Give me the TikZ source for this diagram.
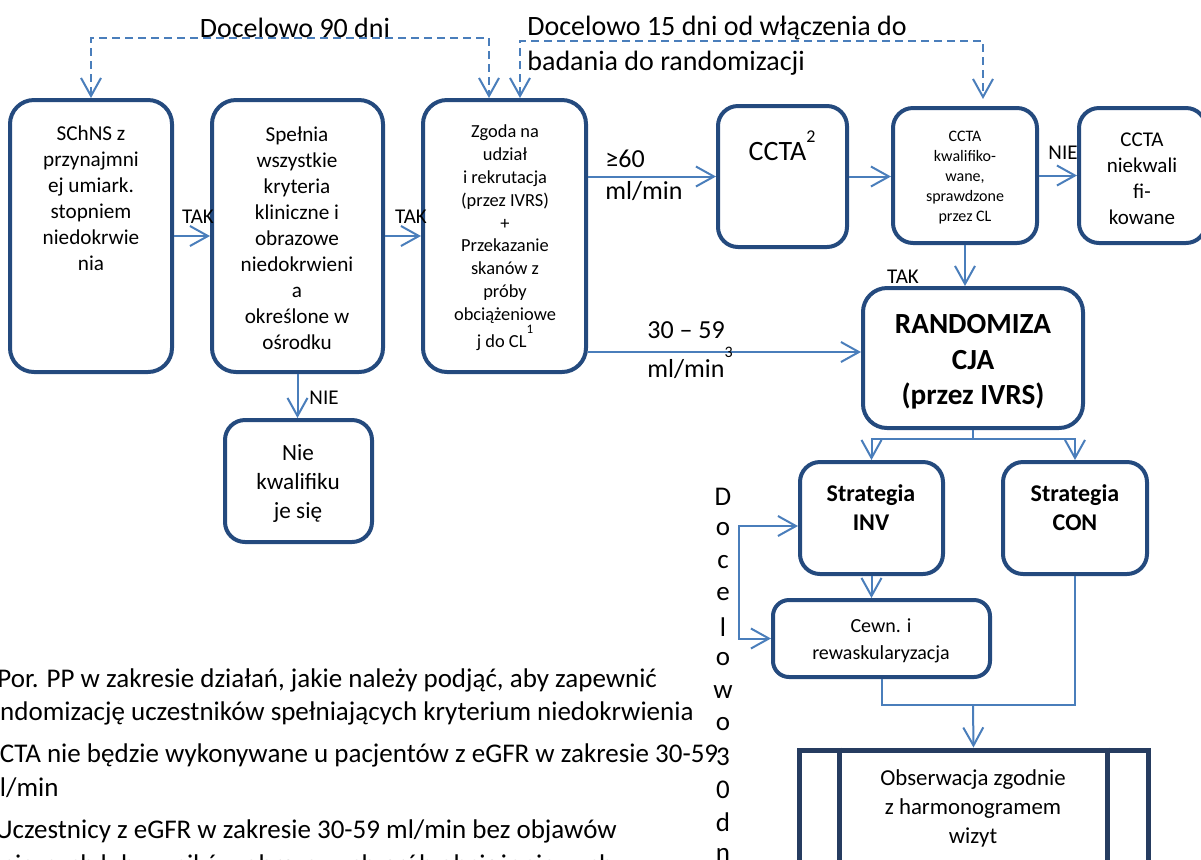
\documentclass[tikz,border=0pt]{standalone}
\usepackage{fontspec}
\setmainfont{Carlito}
\usetikzlibrary{arrows.meta,fit}
\definecolor{boxblue}{RGB}{36,74,126}
\definecolor{obsblue}{RGB}{38,60,96}
\definecolor{linkblue}{RGB}{74,126,187}
\newcommand{\fsz}[2]{\fontsize{#1}{#2}\selectfont}
\tikzset{
  >={Straight Barb[length=9pt,width=10pt]},
  box/.style={
    draw=boxblue,
    line width=2pt,
    rounded corners=10pt,
    inner sep=0pt
  },
  bigbox/.style={
    box,
    rounded corners=12pt
  },
  obsbox/.style={
    draw=obsblue,
    line width=2.5pt,
    inner sep=0pt
  },
  txt/.style={
    align=center,
    inner sep=0pt
  },
  link/.style={
    draw=linkblue,
    line width=1pt,
    ->
  },
  dlink/.style={
    link,
    dash pattern=on 4pt off 2.5pt,
    <->
  },
  lbl/.style={
    inner sep=0pt,
    font=\fsz{10.5}{13}
  },
  fnote/.style={
    inner sep=0pt,
    font=\fsz{13.5}{16}
  }
}

\begin{document}
\begin{tikzpicture}[x=0.5pt,y=-0.5pt]
  \useasboundingbox (0,0) rectangle (1201,859);
  \clip (0,0) rectangle (1201,859);
  % boxes
  \node[bigbox, fit={(10,100) (172,372)}] (schns) {};
  \node[bigbox, fit={(212,100) (383,372)}] (speln) {};
  \node[bigbox, fit={(423,100) (586,372)}] (zgoda) {};
  \node[box, fit={(718,106) (847,247)}] (ccta) {};
  \node[box, fit={(893,108) (1037,243)}] (kwal) {};
  \node[box, fit={(1079,108) (1206,243)}] (niekw) {};
  \node[bigbox, fit={(863,288) (1083,428)}] (rand) {};
  \node[box, fit={(225,420) (372,542)}] (nie) {};
  \node[box, fit={(800,462) (943,574)}] (inv) {};
  \node[box, fit={(1003,462) (1147,574)}] (con) {};
  \node[box, rounded corners=8pt, fit={(773,600) (990,677)}] (cewn) {};
  \node[obsbox, fit={(799,750) (1148,880)}] (obs) {};
  \draw[obsblue, line width=2.5pt]
    ([xshift=21.5pt]obs.north west) -- ([xshift=21.5pt]obs.south west)
    ([xshift=-21.5pt]obs.north east) -- ([xshift=-21.5pt]obs.south east);

  \node[txt, font=\fsz{10.6}{13}] (schnsT) at (91,198)
    {SChNS z\\przynajmni\\ej umiark.\\stopniem\\niedokrwie\\nia};
  \node[txt, font=\fsz{10.6}{13}] (spelnT) at (297,238)
    {Spełnia\\wszystkie\\kryteria\\kliniczne i\\obrazowe\\niedokrwieni\\a\\określone w\\ośrodku};
  \node[txt, font=\fsz{9.2}{11.4}] (zgodaT) at (505,238)
    {Zgoda na\\udział\\i rekrutacja\\(przez IVRS)\\+\\Przekazanie\\skanów z\\próby\\obciążeniowe\\j do CL\raisebox{7pt}{\fsz{6.5}{6.5}1}};
  \node[txt, font=\fsz{14}{17}] (cctaT) at (782,146)
    {CCTA\raisebox{9pt}{\fsz{9}{9}2}};
  \node[txt, font=\fsz{8}{10}] (kwalT) at (965,178)
    {CCTA\\kwalifiko-\\wane,\\sprawdzone\\przez CL};
  \node[txt, font=\fsz{10.5}{13}] (niekwT) at (1142,179)
    {CCTA\\niekwali\\fi-\\kowane};
  \node[txt, font=\bfseries\fsz{14.6}{17.8}] (randT) at (973,362)
    {RANDOMIZA\\CJA\\(przez IVRS)};
  \node[txt, font=\fsz{11.6}{14.5}] (nieT) at (298,483)
    {Nie\\kwalifiku\\je się};
  \node[txt, font=\bfseries\fsz{12}{14.5}] (invT) at (871,508)
    {Strategia\\INV};
  \node[txt, font=\bfseries\fsz{12}{14.5}] (conT) at (1075,508)
    {Strategia\\CON};
  \node[txt, font=\fsz{10}{13.5}] (cewnT) at (881,641)
    {Cewn. i\\rewaskularyzacja};
  \node[txt, font=\fsz{11.4}{14.5}] (obsT) at (973,808)
    {Obserwacja zgodnie\\z harmonogramem\\wizyt};

  % connectors
  \draw[link] (schns.east) -- (speln.west);
  \draw[link] (speln.east) -- (zgoda.west);
  \draw[link] (speln.south) -- (speln.south |- nie.north);
  \draw[link] (zgoda.east |- ccta.west) -- (ccta.west);
  \draw[link] (ccta.east) -- (ccta.east -| kwal.west);
  \draw[link] (kwal.east) -- (kwal.east -| niekw.west);
  \draw[link] (kwal.south) -- (kwal.south |- rand.north);
  \coordinate (r30) at ([yshift=3pt]rand.west);
  \draw[link] (r30 -| zgoda.east) -- (r30);
  \coordinate (rj) at ([yshift=-4.5pt]rand.south);
  \draw[link] (rand.south) -- (rj) -| (inv.north);
  \draw[link] (rj) -| (con.north);
  \draw[link] (inv.south) -- (inv.south |- cewn.north);
  \coordinate (brk) at (739,580);
  \draw[link, <->] ([yshift=-4pt]inv.west) -| (brk) |- (cewn.west);
  \coordinate (jn) at (973,705);
  \draw[link, -] (cewn.south) |- (jn) -| (con.south);
  \draw[link] (jn) -- (obs.north);

  \coordinate (dz1) at (489,98);
  \coordinate (dz2) at (520,98);
  \coordinate (dk) at (983,99);
  \draw[dlink] (schns.north) -- ++(0,-60) -| (dz1);
  \draw[dlink] (dz2) -- ++(0,-57) -| (dk);

  \node[lbl] (tak1) at (198,217) {TAK};
  \node[lbl] (tak2) at (411,217) {TAK};
  \node[lbl] (nie1) at (324,398) {NIE};
  \node[lbl] (nie2) at (1063,153) {NIE};
  \node[lbl] (tak3) at (903,277) {TAK};
  \node[txt, align=left, anchor=west, font=\fsz{13}{16}] (ge60) at (605,175)
    {≥60\\ml/min};
  \node[txt, align=left, anchor=west, font=\fsz{13}{19.5}] (r3059) at (647,350)
    {30 – 59\\ml/min\raisebox{10pt}{\fsz{8}{8}3}};

  \node[txt, font=\fsz{14}{17.5}] (d90) at (295,28) {Docelowo 90 dni};
  \node[txt, align=left, anchor=west, font=\fsz{14}{17.5}] (d15) at (527,46)
    {Docelowo 15 dni od włączenia do\\badania do randomizacji};

  \foreach \ch [count=\i from 0] in {D,o,c,e,l,o,w,o,3,0,d,n,i}
    \node[fnote] (dv\i) at (723,{497+32.5*\i}) {\ch};

  \node[fnote, anchor=west] (fn1) at (-3,680)
    {Por. PP w zakresie działań, jakie należy podjąć, aby zapewnić};
  \node[fnote, anchor=west] (fn2) at (-22,713)
    {randomizację uczestników spełniających kryterium niedokrwienia};
  \node[fnote, anchor=west] (fn3) at (-15,755)
    {CCTA nie będzie wykonywane u pacjentów z eGFR w zakresie 30-59};
  \node[fnote, anchor=west] (fn4) at (-22,788)
    {ml/min};
  \node[fnote, anchor=west] (fn5) at (-5,831)
    {Uczestnicy z eGFR w zakresie 30-59 ml/min bez objawów};
  \node[fnote, anchor=west] (fn6) at (-24,866)
    {klinicznych lub wyników obrazowych prób obciążeniowych};
\end{tikzpicture}
\end{document}
